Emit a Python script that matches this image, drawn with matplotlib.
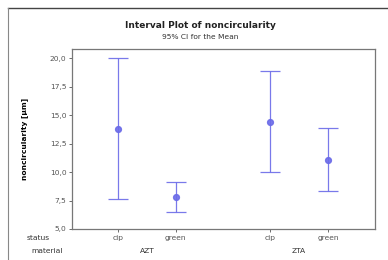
import matplotlib
matplotlib.use("Agg")
import matplotlib.pyplot as plt
from matplotlib.lines import Line2D

# interval plot data
materials = ["AZT", "ZTA"]
statuses = ["cip", "green"]
means = [13.8, 7.8, 14.4, 11.1]
lower = [7.6, 6.5, 10.0, 8.3]
upper = [20.0, 9.1, 18.9, 13.9]
y_ticks = [5.0, 7.5, 10.0, 12.5, 15.0, 17.5, 20.0]

group_step = 2.62
xs = []
for g in range(len(materials)):
    for s in range(len(statuses)):
        xs.append(g * group_step + s)

col = "#6b6be8"
fs = 5.4

fig = plt.figure(figsize=(3.88, 2.60), dpi=100)
W, H = 388, 260
ax = fig.add_axes([72 / W, 1 - 229 / H, (375 - 72) / W, (229 - 49) / H])

for x, m, lo, hi in zip(xs, means, lower, upper):
    ax.errorbar([x], [m], yerr=[[m - lo], [hi - m]], fmt="o", color=col,
                ecolor=col, elinewidth=0.9, capsize=7, capthick=0.9,
                markersize=4.2, alpha=0.9)

ax.set_xlim(-0.79, xs[-1] + 0.81)
ax.set_ylim(5.0, 20.8)
ax.set_yticks(y_ticks)
ax.set_yticklabels([f"{v:.1f}".replace(".", ",") for v in y_ticks], fontsize=fs, color="#333333")
ax.set_xticks(xs)
ax.set_xticklabels(statuses * len(materials), fontsize=fs, color="#333333")
ax.tick_params(length=2.5, width=0.6, pad=1.5, colors="#555555")
for sp in ax.spines.values():
    sp.set_color("#777777")
    sp.set_linewidth(0.9)

# material row under the status labels
for g, mat in enumerate(materials):
    xm = g * group_step + (len(statuses) - 1) / 2
    ax.text(xm, -0.12, mat, transform=ax.get_xaxis_transform(), ha="center",
            va="center", fontsize=fs, color="#333333")

fig.text(50 / W, 1 - 238 / H, "status", ha="right", va="center", fontsize=fs, color="#333333")
fig.text(63 / W, 1 - 251 / H, "material", ha="right", va="center", fontsize=fs, color="#333333")

ax.set_ylabel("noncircularity [µm]", fontsize=fs, fontweight="bold", labelpad=16)

fig.text(200 / W, 1 - 26 / H, "Interval Plot of noncircularity", ha="center",
         va="center", fontsize=6.5, fontweight="bold", color="#222222")
fig.text(200 / W, 1 - 37 / H, "95% CI for the Mean", ha="center", va="center",
         fontsize=fs, color="#333333")

# outer frame (only top and left edges visible)
fig.add_artist(Line2D([8 / W, 1], [1 - 7.5 / H] * 2, transform=fig.transFigure,
                      color="#444444", lw=1.0))
fig.add_artist(Line2D([8 / W] * 2, [0, 1 - 7.5 / H], transform=fig.transFigure,
                      color="#888888", lw=0.8))

fig.savefig("out.png", dpi=100)
